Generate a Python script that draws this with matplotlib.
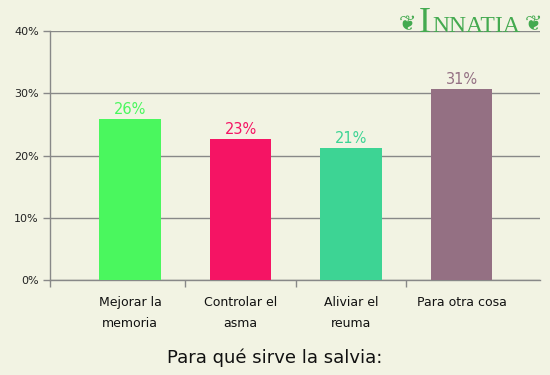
import matplotlib
matplotlib.use("Agg")
import matplotlib.pyplot as plt

categories = ["Mejorar la\nmemoria", "Controlar el\nasma", "Aliviar el\nreuma", "Para otra cosa"]
values = [25.9, 22.7, 21.2, 30.7]
value_labels = ["26%", "23%", "21%", "31%"]
colors = ["#4af75e", "#f51464", "#3dd494", "#947083"]
yticks = [0, 10, 20, 30, 40]
ytick_labels = ["0%", "10%", "20%", "30%", "40%"]
title = "Para qué sirve la salvia:"

bg = "#f2f3e3"
axc = "#888888"

fig = plt.figure(figsize=(5.5, 3.75), dpi=100, facecolor=bg)
ax = fig.add_axes([50/550, 1-280/375, 490/550, 249/375])
ax.set_facecolor(bg)

x = list(range(len(categories)))
ax.bar(x, values, width=0.56, color=colors, zorder=3)
for xi, v, lab, c in zip(x, values, value_labels, colors):
    ax.text(xi, v + 0.3, lab, ha="center", va="bottom", color=c, fontsize=10.5, zorder=4)

left = -0.724
ax.set_xlim(left, 3.71)
ax.set_ylim(0, 40)
ax.set_yticks(yticks)
ax.set_yticklabels(ytick_labels, fontsize=8, color="#222222")
ax.yaxis.grid(True, color=axc, linewidth=1, zorder=1)
ax.set_xticks([left, 0.5, 1.5, 2.5])
ax.set_xticklabels([])
ax.tick_params(axis="both", direction="out", length=5, color=axc, width=1)
ax.tick_params(axis="y", pad=3)
for xi, lab in zip(x, categories):
    ax.text(xi, -2.6, lab, ha="center", va="top", fontsize=9, color="#111111",
            linespacing=1.75, transform=ax.transData, clip_on=False)

for s in ["top", "right"]:
    ax.spines[s].set_visible(False)
for s in ["left", "bottom"]:
    ax.spines[s].set_color(axc)
    ax.spines[s].set_linewidth(1)

fig.text(0.5, 1-358/375, title, ha="center", va="center", fontsize=13, color="#111111")

# logo
green = "#44aa50"
fig.text(431/550, 1-32/375, "I", ha="right", va="baseline", fontsize=26, color=green,
         family="Liberation Serif", zorder=5)
fig.text(432/550, 1-32/375, "NNATIA", ha="left", va="baseline", fontsize=17, color=green,
         family="Liberation Serif", zorder=5)
fig.text(407/550, 1-24/375, "❦", ha="center", va="center", fontsize=15, color=green, zorder=5)
fig.text(534/550, 1-24/375, "❦", ha="center", va="center", fontsize=15, color=green, zorder=5)

fig.savefig("out.png", dpi=100, facecolor=bg)
